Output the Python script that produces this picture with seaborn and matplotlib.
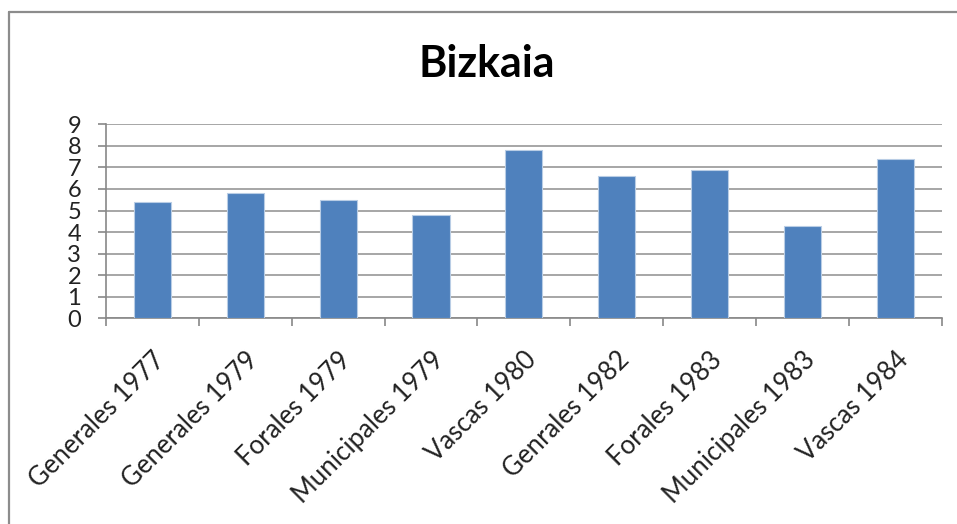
import matplotlib
matplotlib.use("Agg")
import matplotlib.pyplot as plt
from matplotlib.lines import Line2D
import seaborn as sns
import pandas as pd
import numpy as np

elections = ['Generales 1977', 'Generales 1979', 'Forales 1979', 'Municipales 1979',
             'Vascas 1980', 'Genrales 1982', 'Forales 1983', 'Municipales 1983',
             'Vascas 1984']
values = [5.4, 5.8, 5.5, 4.8, 7.8, 6.6, 6.9, 4.3, 7.4]
yticks = list(range(0, 10))

df = pd.DataFrame({'Eleccion': elections, 'Valor': values})

sns.set_theme(style='white')
plt.rcParams['font.family'] = ['Lato', 'DejaVu Sans']

fig = plt.figure(figsize=(9.57, 5.24), dpi=100)
ax = fig.add_axes([0.1108, 0.3925, 0.8732, 0.3703])

sns.barplot(data=df, x='Eleccion', y='Valor', color='#4F81BD', saturation=1,
            width=0.4, edgecolor='#B9CDE5', linewidth=0.8, ax=ax, zorder=3)

ax.set_ylim(0, 9)
ax.set_xlim(-0.5, len(elections) - 0.5)
ax.set_yticks(yticks)
ax.set_yticklabels([str(t) for t in yticks], fontsize=17, color='#222222')
ax.yaxis.grid(True, color='#A6A6A6', linewidth=1.4, zorder=0)
ax.set_axisbelow(True)
ax.set_xlabel('')
ax.set_ylabel('')

for s in ['top', 'right']:
    ax.spines[s].set_visible(False)
for s in ['left', 'bottom']:
    ax.spines[s].set_color('#888888')
    ax.spines[s].set_linewidth(1.2)

ax.tick_params(axis='y', length=6, width=1.2, color='#888888', pad=12, left=True)
ax.set_xticks(np.arange(len(elections)))
ax.set_xticks(np.arange(-0.5, len(elections)), minor=True)
ax.tick_params(axis='x', which='major', length=0, pad=21)
ax.tick_params(axis='x', which='minor', length=6, width=1.2, color='#888888', bottom=True)
ax.set_xticklabels(elections, rotation=45, ha='right', va='top',
                   rotation_mode='anchor', fontsize=18.5, color='#222222')

fig.text(0.509, 1 - 77 / 524, 'Bizkaia', ha='center', va='baseline', fontsize=31,
         fontweight='bold', color='black')

# chart frame (left and top edges visible)
fig.add_artist(Line2D([9 / 957, 9 / 957], [0, 1 - 12 / 524], transform=fig.transFigure,
                      color='#8C8C8C', linewidth=1.6))
fig.add_artist(Line2D([9 / 957, 1], [1 - 12 / 524, 1 - 12 / 524], transform=fig.transFigure,
                      color='#8C8C8C', linewidth=1.6))

fig.savefig('out.png', dpi=100)
